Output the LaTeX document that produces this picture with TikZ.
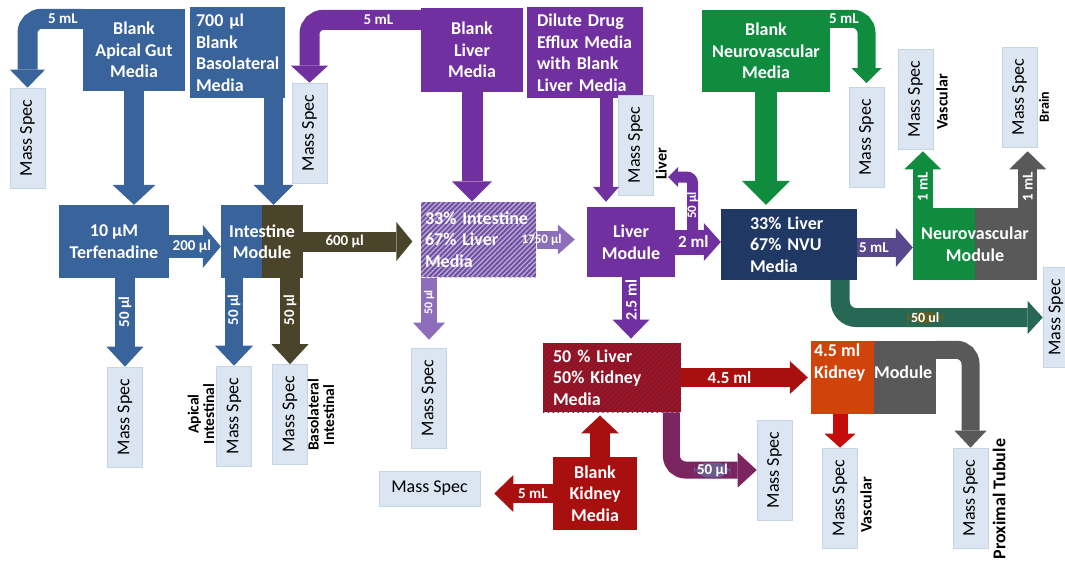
\documentclass[tikz,border=0pt]{standalone}
\usepackage{fontspec}
\setmainfont{Carlito}
\usetikzlibrary{arrows.meta,patterns.meta}

\definecolor{gutblue}{RGB}{57,99,155}
\definecolor{intolive}{RGB}{74,69,42}
\definecolor{livpurple}{RGB}{112,48,160}
\definecolor{nvgreen}{RGB}{16,140,62}
\definecolor{navy}{RGB}{31,56,100}
\definecolor{modgray}{RGB}{89,89,89}
\definecolor{kidred}{RGB}{168,16,16}
\definecolor{kidbright}{RGB}{196,12,12}
\definecolor{kidorange}{RGB}{208,68,12}
\definecolor{mixlav}{RGB}{112,78,162}
\definecolor{mixlavline}{RGB}{186,170,214}
\definecolor{mixlavarrow}{RGB}{140,110,186}
\definecolor{kidmix}{RGB}{160,20,26}
\definecolor{kidmixline}{RGB}{112,24,72}
\definecolor{nvarrow}{RGB}{88,72,142}
\definecolor{nvteal}{RGB}{38,104,84}
\definecolor{kidplum}{RGB}{122,36,96}
\definecolor{labolive}{RGB}{92,96,40}
\definecolor{labpurple}{RGB}{108,92,142}
\definecolor{msfill}{RGB}{220,230,242}
\definecolor{msline}{RGB}{198,212,232}

\newcommand{\boxfont}{\fontsize{18}{21.5}\selectfont\bfseries}
\newcommand{\msfont}{\fontsize{18}{20}\selectfont}
\newcommand{\labfont}[1]{\fontsize{#1}{#1}\selectfont\bfseries}
\newcommand{\msv}{\rotatebox{90}{Mass Spec}}

\begin{document}
\begin{tikzpicture}[
            x=1pt, y=-1pt,
            box/.style={rectangle, inner sep=0pt, text=white, font=\boxfont},
            sz/.style 2 args={minimum width=#1pt, minimum height=#2pt},
            split/.style 2 args={fill=#1, path picture={\fill[#2] (path picture bounding box.north) rectangle (path picture bounding box.south east);}},
            hatch/.style n args={3}{preaction={fill=#1}, pattern={Lines[angle=45,distance=3.5pt,line width=#3]}, pattern color=#2},
            ms/.style={rectangle, inner sep=0pt, fill=msfill, draw=msline, line width=0.6pt, text=black, font=\msfont, minimum width=35pt, minimum height=100pt},
            fat/.style n args={3}{line width=#1pt, -{Triangle[width=#2pt,length=#3pt,line width=0pt]}},
            lab/.style={text=white, font=\labfont{15}, inner sep=1pt},
            side/.style={font=\labfont{15.5}, align=center, rotate=90, inner sep=0pt},
        ]
        \useasboundingbox (0,0) rectangle (1065,560);
        % media sources
        \node[box, fill=gutblue, sz={102}{82}, align=center] (gut) at (134,50) {Blank\\Apical Gut\\Media};
        \node[box, fill=gutblue, sz={95}{91}, text width=83pt, align=left] (baso) at (237.5,52.5) {700 µl\\Blank\\Basolateral\\Media};
        \node[box, fill=livpurple, sz={102}{84}, align=center] (lmed) at (472,50) {Blank\\Liver\\Media};
        \node[box, fill=livpurple, sz={116}{91}, text width=96pt, align=left] (dil) at (585,52.5) {Dilute Drug\\Efflux Media\\with Blank\\Liver Media};
        \node[box, fill=nvgreen, sz={128}{82}, align=center] (nmed) at (766,51) {Blank\\Neurovascular\\Media};
        \node[box, fill=kidred, sz={84}{73}, align=center] (kmed) at (595,493.5) {Blank\\Kidney\\Media};
        % modules and mixed media
        \node[box, fill=gutblue, sz={110}{73}, align=center] (terf) at (114,241.5) {10 µM\\Terfenadine};
        \node[box, split={gutblue}{intolive}, sz={82}{73}, align=center] (intes) at (262,241.5) {Intestine\\Module};
        \node[box, hatch={mixlav}{mixlavline}{1.3pt}, sz={115}{75}, text width=107pt, align=left] (mixA) at (478.5,239.5) {33\% Intestine\\67\% Liver\\Media};
        \node[box, fill=livpurple, sz={88}{70}, align=center] (liv) at (631,242) {Liver\\Module};
        \node[box, fill=navy, sz={136}{71}, text width=78pt, align=left] (mixB) at (789,244.5) {33\% Liver\\67\% NVU\\Media};
        \node[box, split={nvgreen}{modgray}, sz={124}{72}, align=center] (nvu) at (975,244) {Neurovascular\\Module};
        \node[box, hatch={kidmix}{kidmixline}{0.9pt}, sz={138}{69}, text width=118pt, align=left] (mixC) at (612,377.5) {50 \% Liver\\50\% Kidney\\Media};
        \node[box, split={kidorange}{modgray}, sz={125}{73}] (kid) at (873.5,377.5) {};
        \node[box, anchor=north west, align=left] (kidtxt) at ([xshift=3pt,yshift=-3pt]kid.north west) {4.5 ml\\Kidney\hspace{9pt}Module};
        % mass spec samples
        \node[ms] (msA) at (27.5,138) {\msv};
        \node[ms] (msB) at (309.5,133) {\msv};
        \node[ms] (msL) at (635.5,145) {\msv};
        \node[ms] (msN) at (866.5,137.5) {\msv};
        \node[ms] (msV) at (915.5,99) {\msv};
        \node[ms] (msBr) at (1019.5,97) {\msv};
        \node[ms, minimum width=26pt] (msR) at (1056,317.5) {\msv};
        \node[ms] (ms1) at (125,417) {\msv};
        \node[ms] (ms2) at (234,416) {\msv};
        \node[ms] (ms3) at (290,414.5) {\msv};
        \node[ms] (ms4) at (429,398) {\msv};
        \node[ms] (msK1) at (774.5,470) {\msv};
        \node[ms] (msKv) at (840,498) {\msv};
        \node[ms] (msKp) at (970.5,498) {\msv};
        \node[ms, sz={101}{35}] (msH) at (429.5,488.5) {Mass Spec};
        \node[side] (apl) at (201,414) {Apical\\Intestinal};
        \node[side] (bsl) at (321,415) {Basolateral\\Intestinal};
        \node[side, font=\labfont{16}] (livl) at (661,164) {Liver};
        \node[side, font=\labfont{16}] (vasl) at (942,102) {Vascular};
        \node[side, font=\labfont{14}] (brl) at (1044,107) {Brain};
        \node[side, font=\labfont{16}] (kvl) at (866,505) {Vascular};
        \node[side, font=\labfont{18}] (ptl) at (999,499) {Proximal Tubule};
        \coordinate (livsplit) at (692.5,236);
        \coordinate (livtip) at (668,177);
        % intestine flows
        \draw[fat={20}{35}{18}, gutblue, rounded corners=14pt] ([yshift=-10pt]gut.north west) -| node[lab, pos=0.18]{5 mL} (msA.north);
        \draw[fat={20}{43}{20}, gutblue] (gut.south) -- (gut.south |- terf.north);
        \draw[fat={19}{40}{20}, gutblue] ([xshift=36pt]baso.south) -- ([xshift=36pt]baso.south |- intes.north);
        \draw[fat={23}{43}{18}, gutblue] ([yshift=-5pt]terf.east) -- node[lab, pos=0.44]{200 µl} ([yshift=-5pt]intes.west);
        \draw[fat={20}{39}{16}, intolive] (intes.east) -- node[lab, pos=0.38]{600 µl} ([xshift=-8pt]mixA.west |- intes.east);
        \draw[fat={20}{37}{20}, gutblue] (terf.south -| ms1.north) -- node[lab, rotate=90, pos=0.38]{50 µl} (ms1.north);
        \draw[fat={18}{38}{20}, gutblue] (intes.south -| ms2.north) -- node[lab, rotate=90, pos=0.36]{50 µl} (ms2.north);
        \draw[fat={20}{37}{20}, intolive] (intes.south -| ms3.north) -- node[lab, rotate=90, pos=0.37]{50 µl} (ms3.north);
        % liver flows
        \draw[fat={20}{37}{17}, livpurple, rounded corners=14pt] ([yshift=-12pt]lmed.north west) -| node[lab, pos=0.19]{5 mL} (msB.north);
        \draw[fat={21}{40}{20}, livpurple] (lmed.south) -- (lmed.south |- mixA.north);
        \draw[fat={13}{26}{15}, livpurple] ([xshift=21pt]dil.south) -- ([xshift=21pt,yshift=5pt]dil.south |- liv.north);
        \draw[fat={18}{30}{17}, mixlavarrow] (mixA.east) -- node[lab, font=\labfont{13}, pos=0.13]{1750 µl} ([xshift=-12pt]liv.west |- mixA.east);
        \draw[fat={16}{32}{17}, mixlavarrow] (mixA.south -| ms4.north) -- node[lab, rotate=90, font=\labfont{12}, pos=0.4]{50 µl} ([yshift=8pt]ms4.north);
        \draw[fat={25}{38}{17}, livpurple] (liv.east) -- node[lab, font=\labfont{17}, pos=0.4]{2 ml} (mixB.west |- liv.east);
        \draw[fat={11}{20}{10}, livpurple, rounded corners=6pt] (livsplit) |- node[lab, rotate=90, font=\labfont{13}, pos=0.26]{50 µl} (livtip);
        \draw[fat={18}{37}{19}, livpurple] (liv.south) -- node[lab, rotate=90, font=\labfont{16}, pos=0.37]{2.5 ml} ([yshift=4pt]liv.south |- mixC.north);
        % neurovascular flows
        \draw[fat={18}{30}{15}, nvgreen, rounded corners=14pt] ([yshift=-9pt]nmed.north east) -| node[lab, pos=0.19]{5 mL} ([yshift=4pt]msN.north);
        \draw[fat={22}{48}{24}, nvgreen] (nmed.south) -- ([yshift=4pt]nmed.south |- mixB.north);
        \draw[fat={19}{39}{17}, nvarrow] ([yshift=-3pt]mixB.east) -- node[lab, pos=0.3]{5 mL} ([yshift=-3pt]mixB.east -| nvu.west);
        \draw[fat={20}{37}{18}, nvgreen] ([xshift=10pt]nvu.north west) -- node[lab, rotate=90, pos=0.375]{1 mL} ([xshift=10pt,yshift=-2pt]nvu.north west |- msV.south);
        \draw[fat={19}{37}{18}, modgray] ([xshift=-9.5pt]nvu.north east) -- node[lab, rotate=90, pos=0.375]{1 mL} ([xshift=-9.5pt,yshift=-4pt]nvu.north east |- msBr.south);
        \draw[fat={19}{33}{15}, nvteal, rounded corners=16pt] ([xshift=-17pt]mixB.south east) |- node[lab, fill=labolive, font=\labfont{14}, inner xsep=4pt, pos=0.71]{50 ul} (msR.west);
        % kidney flows
        \draw[fat={19}{33}{18}, kidred] (mixC.east) -- node[lab, font=\labfont{17}, pos=0.38]{4.5 ml} ([xshift=-3pt]kid.west);
        \draw[fat={17}{35}{19}, kidplum, rounded corners=14pt] ([xshift=-10pt]mixC.south east) |- node[lab, fill=labpurple, font=\labfont{15}, inner xsep=3pt, pos=0.74]{50 µl} (msK1.west);
        \draw[fat={20}{38}{18}, kidred] ([xshift=5pt]kmed.north) -- ([xshift=5pt,yshift=-3pt]kmed.north |- mixC.south);
        \draw[fat={19}{37}{19}, kidred] (kmed.west) -- node[lab, pos=0.34]{5 mL} ([xshift=14pt]msH.east |- kmed.west);
        \draw[fat={15}{31}{14}, kidbright] (kid.south -| msKv.north) -- (msKv.north);
        \draw[fat={18}{32}{17}, modgray, rounded corners=14pt] ([yshift=-9pt]kid.north east) -| (msKp.north);
        \end{tikzpicture}
\end{document}
